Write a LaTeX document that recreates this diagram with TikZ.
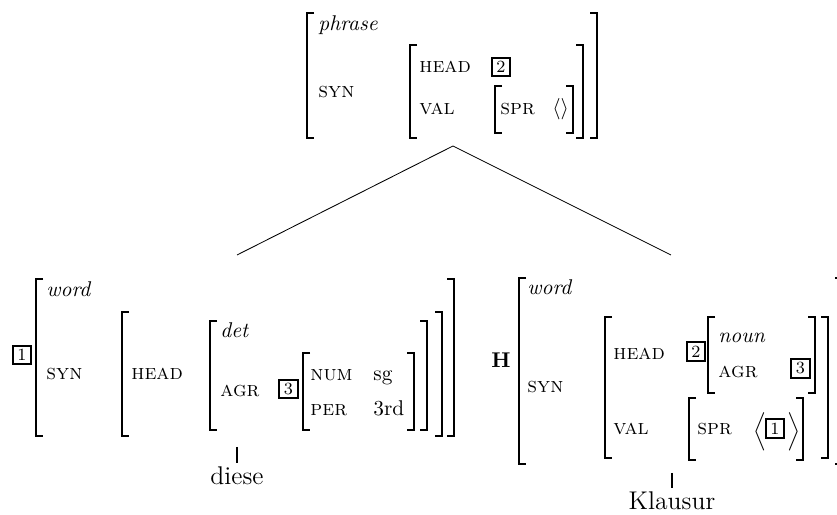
\documentclass[tikz,border=0pt]{standalone}
\usepackage{amsmath}
\usepackage{amssymb}
\usepackage{tikz}

\begin{document}
\begin{tikzpicture}[x=0.4684pt,y=-0.4684pt,
                            brk/.style={line width=0.7pt},
                            word/.style={anchor=base,inner sep=2pt,font=\large}]
          \tikzstyle{feat}=[anchor=base west,inner sep=0pt]
          \tikzstyle{tag}=[draw,line width=1pt,inner sep=0pt,minimum size=8.6pt,font=\footnotesize]

          \useasboundingbox (0,0) rectangle (837,515);

          % mother
          \draw[brk] (314,13) -| (307,138) -- (314,138);
          \draw[brk] (417,45) -| (410,138) -- (417,138);
          \draw[brk] (502,86) -| (495,133) -- (502,133);
          \draw[brk] (566,86) -| (573,133) -- (566,133);
          \draw[brk] (576,45) -| (583,138) -- (576,138);
          \draw[brk] (590,13) -| (597,138) -- (590,138);

          \node[feat] (phr-type) at (318,31)  {\textit{phrase}};
          \node[feat] (phr-syn)  at (318,98)  {\textsc{syn}};
          \node[feat] (phr-head) at (419,73)  {\textsc{head}};
          \node[tag]  (phr-tag2) at (501,67)  {2};
          \node[feat] (phr-val)  at (419,115) {\textsc{val}};
          \node[feat] (phr-spr)  at (500,115) {\textsc{spr}};
          \node[feat] (phr-list) at (552,115) {$\langle\rangle$};

          % diese
          \draw[brk] (43,279) -| (36,436) -- (43,436);
          \draw[brk] (129,312) -| (122,436) -- (129,436);
          \draw[brk] (217,321) -| (210,430) -- (217,430);
          \draw[brk] (310,353) -| (303,430) -- (310,430);
          \draw[brk] (407,353) -| (414,430) -- (407,430);
          \draw[brk] (420,321) -| (427,430) -- (420,430);
          \draw[brk] (435,312) -| (442,436) -- (435,436);
          \draw[brk] (447,279) -| (454,436) -- (447,436);

          \node[tag]  (det-tag1)  at (22,355)    {1};
          \node[feat] (det-type)  at (46,297)    {\textit{word}};
          \node[feat] (det-syn)   at (46,380)    {\textsc{syn}};
          \node[feat] (det-head)  at (131,380)   {\textsc{head}};
          \node[feat] (det-sort)  at (220,338)   {\textit{det}};
          \node[feat] (det-agr)   at (220,397)   {\textsc{agr}};
          \node[tag]  (det-tag3)  at (288.5,389) {3};
          \node[feat] (det-num)   at (310,381)   {\textsc{num}};
          \node[feat] (det-sg)    at (373,381)   {sg};
          \node[feat] (det-per)   at (310,416)   {\textsc{per}};
          \node[feat] (det-third) at (373,416)   {3rd};

          % Klausur
          \draw[brk] (526,278) -| (519,464) -- (526,464);
          \draw[brk] (612,317) -| (605,458) -- (612,458);
          \draw[brk] (715,317) -| (708,393) -- (715,393);
          \draw[brk] (808,317) -| (815,393) -- (808,393);
          \draw[brk] (696,398) -| (689,460) -- (696,460);
          \draw[brk] (796,398) -| (803,460) -- (796,460);
          \draw[brk] (821,317) -| (828,458) -- (821,458);
          \draw[brk] (835,278) -| (842,464) -- (835,464);

          \node[feat,font=\bfseries] (n-hd) at (491,368) {H};
          \node[feat] (n-type) at (527,295)     {\textit{word}};
          \node[feat] (n-syn)  at (527,393)     {\textsc{syn}};
          \node[feat] (n-head) at (613,360)     {\textsc{head}};
          \node[tag]  (n-tag2) at (696,351.5)   {2};
          \node[feat] (n-sort) at (718,343)     {\textit{noun}};
          \node[feat] (n-agr)  at (718,378)     {\textsc{agr}};
          \node[tag]  (n-tag3) at (800.5,368.5) {3};
          \node[feat] (n-val)  at (613,435)     {\textsc{val}};
          \node[feat] (n-spr)  at (697,435)     {\textsc{spr}};
          \node[feat] (n-lang) at (753,437)     {$\Bigl\langle$};
          \node[tag]  (n-tag1) at (775,428.5)   {1};
          \node[feat] (n-rang) at (787,437)     {$\Bigr\rangle$};

          \node[word] (diese)   at (237,485) {diese};
          \node[word] (klausur) at (672,510) {Klausur};

          \coordinate (mother)   at (453,146);
          \coordinate (det-top)  at (237,255);
          \coordinate (n-top)    at (671,255);
          \coordinate (det-foot) at (237,447);
          \coordinate (n-foot)   at (672,473);

          \draw (mother) -- (det-top)
                (mother) -- (n-top);
          \draw[line width=0.8pt] (det-foot) -- (diese)
                                  (n-foot) -- (klausur);

        \end{tikzpicture}
\end{document}
